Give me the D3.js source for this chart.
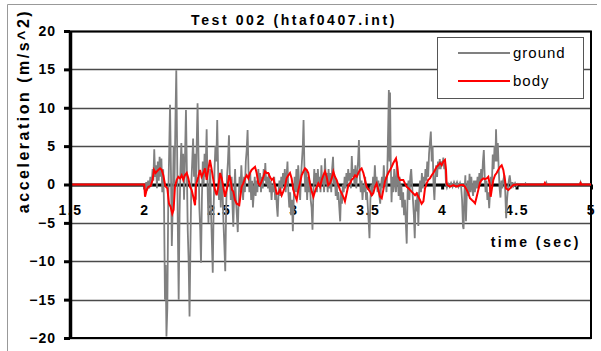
<!DOCTYPE html>
<html>
<head>
<meta charset="utf-8">
<script src="https://cdn.jsdelivr.net/npm/d3@7"></script>
<style>
  body { margin: 0; background: #fff; }
  svg text { font-family: "Liberation Sans", Arial, sans-serif; }
</style>
</head>
<body>
<div id="chart"></div>
<script>
// tick values
const xTicks = [1.5, 2, 2.5, 3, 3.5, 4, 4.5, 5];
const yTicks = [-20, -15, -10, -5, 0, 5, 10, 15, 20];

// ground acceleration [time (s), m/s^2]
const ground = [
  [1.5, 0], [2.0, 0], [2.005, -1.0], [2.012, 0.3], [2.018, -0.8], [2.025, 0.5], [2.032, -0.5],
  [2.04, 1.0], [2.047, -0.3], [2.055, 2.0], [2.06, 0.5], [2.066, 4.6], [2.072, 1.0], [2.078, 2.5],
  [2.084, -0.5], [2.09, 3.0], [2.096, 0.5], [2.102, 3.6], [2.108, 1.0], [2.114, 3.4], [2.12, -1.0],
  [2.126, 2.0], [2.132, -3.0], [2.138, -15], [2.143, -10.5], [2.148, -19.8], [2.154, -16], [2.16, -2],
  [2.166, 4], [2.172, 10.4], [2.178, 2], [2.184, -8], [2.19, -3], [2.196, 5], [2.202, 0], [2.208, 8],
  [2.214, 14.9], [2.219, 6], [2.224, -5], [2.23, -15], [2.236, -4], [2.242, 2], [2.248, 5.4],
  [2.254, 1], [2.26, 4], [2.266, -2], [2.272, 3], [2.279, 9.7], [2.285, 2], [2.291, -6], [2.297, -10],
  [2.303, -17.2], [2.309, -8], [2.315, 0], [2.321, 3], [2.327, 6], [2.333, 1], [2.339, 4], [2.345, -2],
  [2.351, 5], [2.357, 10.6], [2.363, 4], [2.369, -3], [2.375, -6], [2.38, -10.2], [2.386, -2],
  [2.392, 3], [2.398, 0], [2.404, 4], [2.41, 1], [2.418, 7.2], [2.424, 0], [2.43, -5], [2.436, -1],
  [2.442, 2], [2.448, -4], [2.454, -8], [2.459, -11.5], [2.465, -3], [2.471, 2], [2.477, 5],
  [2.483, 3], [2.489, 8.4], [2.495, 2], [2.501, -2], [2.507, 1], [2.513, -3], [2.519, 2], [2.525, -1],
  [2.531, -5], [2.537, -8], [2.543, -11.3], [2.549, -3], [2.555, 1], [2.561, 3], [2.568, 6.4],
  [2.574, 1], [2.58, -2], [2.586, 1], [2.592, -3], [2.597, -5.5], [2.603, -1], [2.609, 2], [2.615, -2],
  [2.621, -4], [2.627, -6.2], [2.633, -2], [2.639, 1], [2.645, -1], [2.651, 2.5], [2.657, 0],
  [2.663, -2], [2.669, 1], [2.675, -1], [2.681, 3], [2.687, 4.5], [2.693, 7.1], [2.699, 2], [2.705, -1],
  [2.711, 1.5], [2.717, -2], [2.723, 0.5], [2.729, -3], [2.735, -1], [2.741, 1], [2.747, -1.5],
  [2.753, 0.5], [2.759, -1], [2.765, 2], [2.771, 0], [2.777, 1.5], [2.783, -1], [2.789, 1],
  [2.795, -0.5], [2.801, 2], [2.807, 0.5], [2.812, 2.8], [2.818, 0], [2.824, 1], [2.83, -0.5],
  [2.836, 1.5], [2.842, -1], [2.848, 0.5], [2.854, -2], [2.86, 0], [2.866, -1], [2.872, 1], [2.878, -2],
  [2.884, -1], [2.89, -3], [2.895, -4.2], [2.901, -1], [2.907, 0.5], [2.913, -1.5], [2.919, 1],
  [2.925, -0.5], [2.931, 1.5], [2.937, 0], [2.943, 2], [2.949, -1], [2.955, 1], [2.961, 3], [2.967, -1],
  [2.973, -3], [2.979, -1], [2.985, -4], [2.991, -2], [2.997, -6.1], [3.003, -2], [3.009, 1],
  [3.015, -1], [3.021, 2], [3.027, -1], [3.033, 2.5], [3.04, 0], [3.046, -2], [3.052, 1], [3.058, 3],
  [3.064, 5], [3.069, 8.4], [3.075, 2], [3.081, -1], [3.087, 2], [3.093, -2], [3.099, 1], [3.105, -1],
  [3.111, 0.5], [3.117, -2], [3.123, -3], [3.129, -5.9], [3.135, -1], [3.141, 2], [3.147, 0],
  [3.153, 1.5], [3.159, -1], [3.165, 2], [3.171, 0], [3.177, 1], [3.183, -1], [3.189, 2.5], [3.195, 0],
  [3.201, 1], [3.207, -1], [3.213, 3.4], [3.219, 0], [3.225, 1.5], [3.231, -1], [3.237, 2],
  [3.243, -0.5], [3.249, 1.5], [3.255, -1], [3.261, 2], [3.267, 3.6], [3.273, 0], [3.279, 1],
  [3.285, -1.5], [3.291, 0.5], [3.297, -2], [3.303, -1], [3.309, -3], [3.315, -4.8], [3.321, -1],
  [3.327, -2.5], [3.333, 0], [3.339, -1], [3.345, 1], [3.351, -0.5], [3.357, 1.5], [3.363, 0],
  [3.369, 2], [3.375, 0.5], [3.381, 1.5], [3.387, -0.5], [3.393, 3.7], [3.399, 1], [3.405, 2],
  [3.411, 0], [3.417, 2.5], [3.423, -0.5], [3.429, 1.5], [3.435, 3], [3.441, 5.8], [3.447, 1],
  [3.453, -1], [3.459, 0.5], [3.465, -2], [3.471, 0], [3.477, -1], [3.483, 1], [3.489, -2], [3.495, -1],
  [3.501, -3], [3.507, -5], [3.512, -7.0], [3.518, -2], [3.524, 0], [3.53, -1.5], [3.536, 1],
  [3.542, -0.5], [3.548, 2.5], [3.554, 0], [3.56, 1], [3.566, -1], [3.572, 0.5], [3.578, -1.5],
  [3.584, -2.5], [3.59, 0], [3.596, 1], [3.602, -0.5], [3.608, 2.5], [3.614, 0], [3.62, 1], [3.626, -1],
  [3.632, 2], [3.638, 8], [3.642, 12.3], [3.646, 3], [3.65, 12.0], [3.654, 4], [3.66, -2.3], [3.666, 1],
  [3.672, -1], [3.678, 2], [3.684, 0], [3.69, -1], [3.696, 3], [3.702, 0.5], [3.708, -1.5], [3.714, 1],
  [3.72, -2], [3.726, 0], [3.732, -3], [3.738, -1], [3.744, -4], [3.75, -2], [3.756, -5], [3.762, -7.7],
  [3.768, -1], [3.774, 0.5], [3.78, -2], [3.786, 1], [3.792, 2], [3.798, 0], [3.804, -2], [3.81, -4],
  [3.816, -7.0], [3.822, -2], [3.828, -3.5], [3.834, -1], [3.84, -5.4], [3.846, -1], [3.852, 0.5],
  [3.858, -1], [3.864, 1.5], [3.87, -0.5], [3.876, 1], [3.882, 0], [3.888, 2], [3.894, 0.5], [3.9, 3],
  [3.906, 1], [3.912, 4], [3.918, 5.5], [3.924, 6.9], [3.93, 3], [3.936, 5], [3.942, 0], [3.948, -2],
  [3.954, 1], [3.96, 2.5], [3.966, 1], [3.972, 3], [3.978, 2], [3.984, 3.3], [3.99, 2], [3.996, 3],
  [4.002, 2.5], [4.008, 3.5], [4.014, 2], [4.02, 2.8], [4.026, 0], [4.032, -0.4], [4.04, 0.1],
  [4.05, -0.3], [4.06, 0.2], [4.07, -0.3], [4.08, 0.3], [4.09, -0.2], [4.1, 0.3], [4.11, -0.3],
  [4.12, 0.2], [4.128, -0.4], [4.134, -2], [4.14, -5.5], [4.144, -5.8], [4.15, -1], [4.156, 1.2],
  [4.16, -4.8], [4.166, -1], [4.172, 0.5], [4.178, -1.5], [4.184, 1.4], [4.19, -1], [4.196, 1],
  [4.202, -0.5], [4.208, -1.5], [4.214, 0.5], [4.22, -1], [4.226, 0.5], [4.232, -0.5], [4.238, 1],
  [4.244, -0.5], [4.25, 1.5], [4.256, 0], [4.262, 2], [4.268, 0.5], [4.274, 3], [4.28, 4.5], [4.286, 1],
  [4.292, -1], [4.298, 0.5], [4.304, -2], [4.31, -1], [4.316, -3.1], [4.322, -1], [4.328, 1],
  [4.334, 0], [4.34, 3.9], [4.346, 2], [4.352, 5], [4.358, 3], [4.362, 7.2], [4.368, 3], [4.374, 5.4],
  [4.38, 2], [4.386, -0.5], [4.392, -1.7], [4.398, 0.5], [4.404, -0.5], [4.41, 0.5], [4.418, 1.2],
  [4.424, -1], [4.43, -4.4], [4.436, -2], [4.442, -0.5], [4.448, 0.5], [4.454, 1.2], [4.46, 0.2],
  [4.466, -0.5], [4.472, 0.3], [4.48, -0.2], [4.49, 0.2], [4.5, -0.2], [4.51, 0.1], [4.53, 0],
  [4.555, 0], [4.56, 0.15], [4.565, 0], [4.695, 0], [4.7, 0.25], [4.705, 0], [4.925, 0], [4.93, 0.3],
  [4.935, 0], [5.0, 0]
];

// body acceleration [time (s), m/s^2]
const body = [
  [1.5, 0], [1.999, 0], [2.004, -1.6], [2.015, -0.7], [2.026, -0.3], [2.042, -0.2], [2.055, 0.6],
  [2.064, 1.9], [2.075, 1.5], [2.093, 1.9], [2.105, 2.1], [2.116, 1.9], [2.127, 1.2], [2.14, -0.2],
  [2.154, -0.5], [2.165, -2.5], [2.176, -2.9], [2.187, -3.8], [2.196, -3.3], [2.205, -0.3],
  [2.217, 0.6], [2.228, 1.0], [2.239, 0.8], [2.25, 1.2], [2.261, 0.6], [2.272, 1.2], [2.284, 1.5],
  [2.295, 0.8], [2.306, -0.3], [2.317, -0.7], [2.328, -1.6], [2.34, -2.7], [2.346, -0.1], [2.362, 1.0],
  [2.373, 1.9], [2.384, 1.0], [2.396, 1.5], [2.407, 2.1], [2.418, 0.6], [2.429, 1.9], [2.44, 3.2],
  [2.452, 1.9], [2.463, 0.6], [2.474, -0.7], [2.485, -1.4], [2.496, -0.3], [2.508, 1.5], [2.519, 0.8],
  [2.53, -0.3], [2.541, -1.6], [2.557, -0.3], [2.57, 1.2], [2.579, 0.6], [2.588, -0.7], [2.597, -0.9],
  [2.608, -2.0], [2.62, -2.5], [2.637, -2.7], [2.653, -0.3], [2.664, 0.15], [2.676, 0.8], [2.687, 1.2],
  [2.698, 0.8], [2.709, 1.5], [2.72, 1.9], [2.743, 2.3], [2.754, 1.5], [2.765, 0.15], [2.776, -0.1],
  [2.787, 0.4], [2.799, 1.0], [2.81, 1.7], [2.821, 1.5], [2.832, 1.5], [2.843, 1.0], [2.855, 0.6],
  [2.866, 0.8], [2.877, -0.1], [2.888, -1.2], [2.899, -1.2], [2.911, -0.7], [2.922, -1.4], [2.933, -0.9],
  [2.944, -0.3], [2.955, 0.8], [2.967, 1.2], [2.978, 1.5], [2.989, 0.8], [3.0, -0.7], [3.011, -1.4],
  [3.023, -2.0], [3.034, -0.7], [3.045, 0.15], [3.056, 1.2], [3.068, 1.7], [3.079, 2.1], [3.09, 1.9],
  [3.101, 1.5], [3.112, 0.15], [3.124, -0.9], [3.135, -1.6], [3.146, -0.9], [3.157, -0.3], [3.168, 0.15],
  [3.18, -0.3], [3.191, 0.6], [3.202, 1.2], [3.213, 1.7], [3.224, 1.0], [3.235, -0.1], [3.247, 0.15],
  [3.258, 0.8], [3.269, 1.7], [3.28, 1.0], [3.291, 0.6], [3.303, -0.1], [3.314, -0.7], [3.336, -1.6],
  [3.347, -2.2], [3.359, -1.1], [3.37, -0.1], [3.381, 0.15], [3.392, 0.6], [3.403, 0.8], [3.415, 1.2],
  [3.426, 1.0], [3.437, 1.5], [3.448, 1.9], [3.459, 2.1], [3.471, 1.5], [3.482, 0.6], [3.493, -0.3],
  [3.515, -0.9], [3.527, -1.4], [3.538, -1.1], [3.549, -0.3], [3.56, 0.15], [3.571, -0.7], [3.583, -1.6],
  [3.594, -1.8], [3.605, -0.7], [3.616, 0.4], [3.627, 1.0], [3.638, 1.5], [3.65, 1.9], [3.661, 2.3],
  [3.672, 2.8], [3.69, 3.4], [3.699, 2.3], [3.706, 1.0], [3.717, 0.6], [3.739, 0.6], [3.75, 0.15],
  [3.762, -0.3], [3.773, -0.5], [3.784, -0.7], [3.806, -1.15], [3.818, -1.4], [3.829, -1.15],
  [3.84, -1.6], [3.851, -2.0], [3.862, -2.5], [3.874, -2.2], [3.885, -0.5], [3.896, 0.15], [3.907, 0.6],
  [3.918, 0.8], [3.93, 1.2], [3.941, 1.5], [3.952, 1.9], [3.963, 2.3], [3.974, 2.5], [3.986, 2.8],
  [3.997, 2.5], [4.008, 3.0], [4.019, 3.2], [4.026, 1.9], [4.03, 0.15], [4.035, -0.07], [4.053, -0.28],
  [4.075, -0.07], [4.098, -0.28], [4.12, -0.07], [4.142, -0.07], [4.153, -0.28], [4.165, -0.7],
  [4.176, -1.15], [4.187, -1.8], [4.198, -2.0], [4.21, -2.2], [4.221, -2.45], [4.232, -1.6],
  [4.243, -0.7], [4.254, 0.2], [4.265, 0.6], [4.277, 0.8], [4.288, 0.7], [4.299, 0.8], [4.31, 1.0],
  [4.321, -0.07], [4.326, -1.6], [4.333, -0.7], [4.344, 0.6], [4.355, 1.2], [4.366, 1.5], [4.377, 1.9],
  [4.389, 2.3], [4.4, 2.5], [4.411, 1.9], [4.422, 0.6], [4.429, -0.5], [4.445, -0.72], [4.456, -0.5],
  [4.467, -0.28], [4.478, -0.07], [4.5, 0], [4.685, 0], [4.69, 0.2], [4.695, 0], [4.925, 0],
  [4.93, 0.2], [4.935, 0], [5.0, 0]
];

const W = 601, H = 351;
const plot = { left: 70, right: 591, top: 31, bottom: 338 };

const svg = d3.select("#chart").append("svg")
  .attr("width", W).attr("height", H);

// chart frame (top + left edges visible in reference)
svg.append("path")
  .attr("d", "M7.5," + H + "V4.5H597")
  .attr("fill", "none").attr("stroke", "#999").attr("stroke-width", 1);

var x = d3.scaleLinear().domain([1.5, 5]).range([plot.left, plot.right]);
var y = d3.scaleLinear().domain([-20, 20]).range([plot.bottom, plot.top]);

// gridlines
svg.append("g")
  .selectAll("line")
  .data(yTicks)
  .enter().append("line")
    .attr("x1", plot.left).attr("x2", plot.right)
    .attr("y1", function(d) { return Math.round(y(d)) + 0.5; })
    .attr("y2", function(d) { return Math.round(y(d)) + 0.5; })
    .attr("stroke", "#4a4a4a")
    .attr("stroke-width", 1.3);

// plot border right/top/bottom
svg.append("path")
  .attr("d", "M" + plot.left + "," + (plot.top + 0.5) + "H" + plot.right + "V" + plot.bottom + "H" + plot.left)
  .attr("fill", "none").attr("stroke", "#000").attr("stroke-width", 2);

// x axis through zero
var xAxis = svg.append("g")
  .attr("transform", "translate(0," + y(0) + ")")
  .call(d3.axisBottom(x).tickValues(xTicks).tickSize(5).tickSizeOuter(0)
    .tickFormat(function(d) { return d; }));
xAxis.select(".domain").attr("stroke", "#000").attr("stroke-width", 3);
xAxis.selectAll(".tick line").attr("stroke", "#000").attr("stroke-width", 3);
xAxis.selectAll(".tick text")
  .attr("y", 30).attr("dy", null)
  .attr("font-size", 14).attr("font-weight", "bold")
  .attr("letter-spacing", 1.5)
  .attr("fill", "#000");

// series
var line = d3.line()
  .x(function(d) { return x(d[0]); })
  .y(function(d) { return y(d[1]); });

svg.append("path")
  .datum(ground)
  .attr("d", line)
  .attr("fill", "none")
  .attr("stroke", "#808080")
  .attr("stroke-width", 1.8);

svg.append("path")
  .datum(body)
  .attr("d", line)
  .attr("fill", "none")
  .attr("stroke", "#ff0000")
  .attr("stroke-width", 2);

// y axis
var yAxis = svg.append("g")
  .attr("transform", "translate(" + plot.left + ",0)")
  .call(d3.axisLeft(y).tickValues(yTicks).tickSize(6).tickSizeOuter(0).tickPadding(8));
yAxis.select(".domain").attr("stroke", "#000").attr("stroke-width", 3.5);
yAxis.selectAll(".tick line").attr("stroke", "#000").attr("stroke-width", 3);
yAxis.selectAll(".tick text")
  .attr("font-size", 14).attr("font-weight", "bold")
  .attr("letter-spacing", 1)
  .attr("fill", "#000");

// title
svg.append("text")
  .attr("x", 294).attr("y", 25)
  .attr("text-anchor", "middle")
  .attr("font-size", 14).attr("font-weight", "bold")
  .attr("letter-spacing", 2.6)
  .text("Test 002 (htaf0407.int)");

// axis titles
svg.append("text")
  .attr("transform", "translate(28.5,111) rotate(-90)")
  .attr("text-anchor", "middle")
  .attr("font-size", 16).attr("font-weight", "bold")
  .attr("letter-spacing", 2.5)
  .text("acceleration (m/s^2)");

svg.append("text")
  .attr("x", 581).attr("y", 247)
  .attr("text-anchor", "end")
  .attr("font-size", 14).attr("font-weight", "bold")
  .attr("letter-spacing", 2.5)
  .text("time (sec)");

// legend
var legend = svg.append("g");
legend.append("rect")
  .attr("x", 437.5).attr("y", 37.5).attr("width", 146).attr("height", 61)
  .attr("fill", "#fff").attr("stroke", "#555").attr("stroke-width", 1);

var legendItems = [
  { name: "ground", color: "#808080", width: 1.8 },
  { name: "body", color: "#ff0000", width: 2 }
];
legend.selectAll(".item")
  .data(legendItems)
  .enter().append("g")
    .attr("class", "item")
    .attr("transform", function(d, i) { return "translate(0," + (53 + i * 28) + ")"; })
    .each(function(d) {
      var g = d3.select(this);
      g.append("line").attr("x1", 458).attr("x2", 510)
        .attr("stroke", d.color).attr("stroke-width", d.width);
      g.append("text").attr("x", 513).attr("y", 5)
        .attr("font-size", 15).attr("letter-spacing", 1)
        .text(d.name);
    });
</script>
</body>
</html>
